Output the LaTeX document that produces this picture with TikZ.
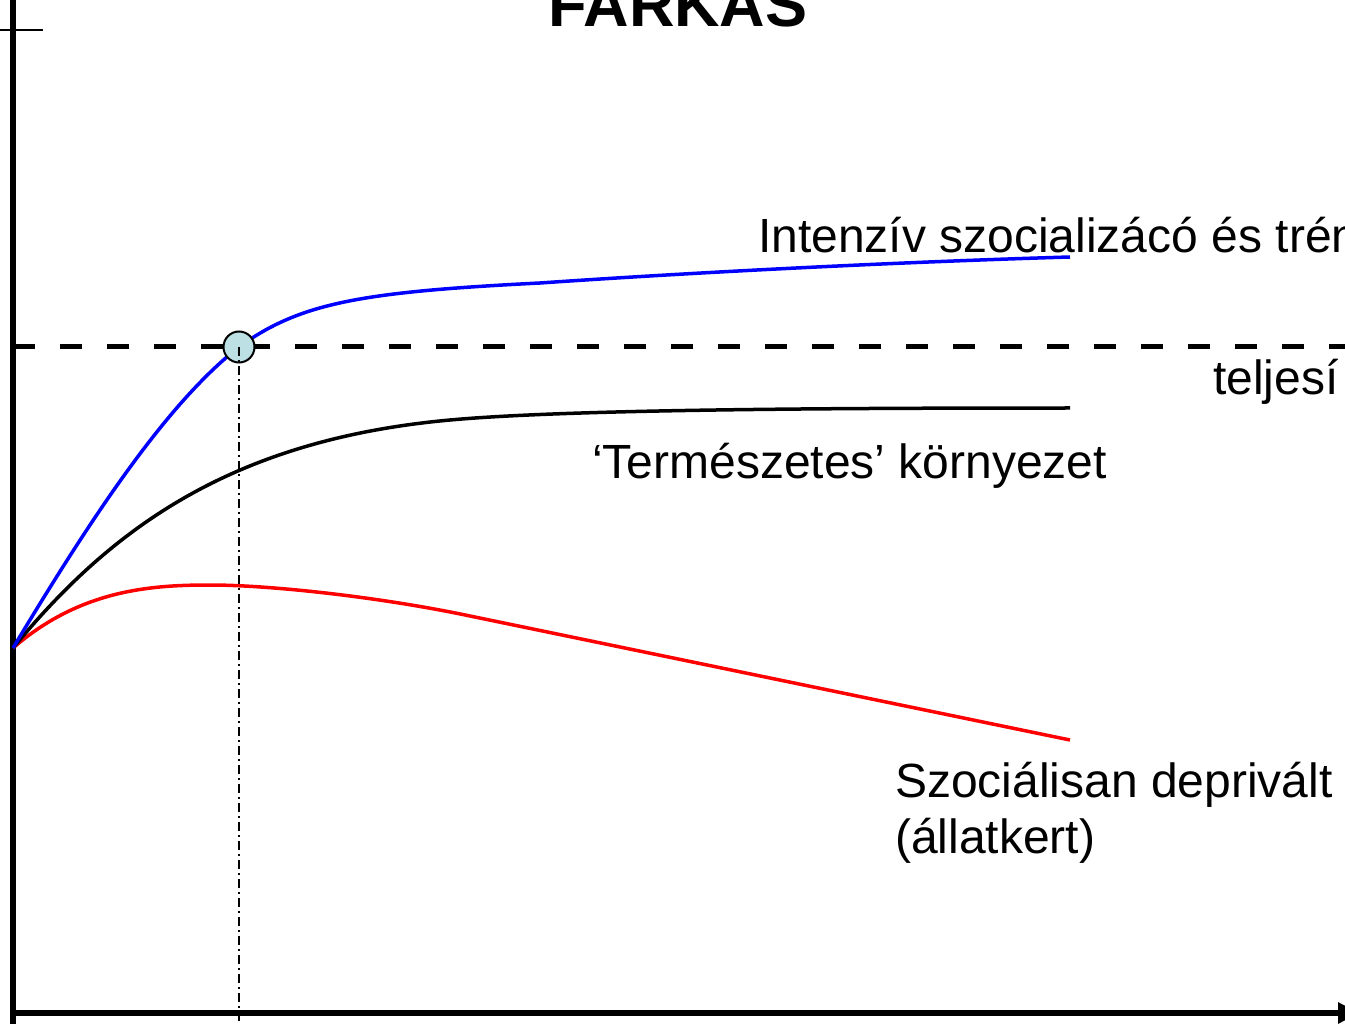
\documentclass[tikz,border=0pt]{standalone}
\usepackage{fontspec}
\setmainfont{Liberation Sans}
\usetikzlibrary{arrows.meta}
\begin{document}
\begin{tikzpicture}[x=1pt,y=-1pt,
  lbl/.style={anchor=base west,inner sep=0pt,font=\fontsize{48}{56}\selectfont},
  axis/.style={line width=6pt},
  curve/.style={line width=3.5pt}]
\useasboundingbox (0,0) rectangle (1345,1024);
\clip (0,0) rectangle (1345,1024);
% axes
\coordinate (ytop) at (13,-5);
\coordinate (origin) at (13,1013);
\coordinate (xend) at (1360,1013);
\draw[axis] (13,1024) -- (ytop);
\draw[axis,-{Triangle[length=22pt,width=20pt]}] (origin) -- (xend);
\coordinate (tickL) at (0,30);
\coordinate (tickR) at (43,30);
\draw[line width=2pt] (tickL) -- (tickR);
% title
\node[anchor=base,inner sep=0pt,font=\fontsize{63}{70}\selectfont\bfseries] (title) at (678,27) {FARKAS};
% dashed line
\coordinate (dL) at (13,347);
\coordinate (dR) at (1345,347);
\draw[line width=5pt,dash pattern=on 22pt off 25pt] (dL) -- (dR);
% vertical dash-dot
\coordinate (vb) at (239,1024);
\coordinate (start) at (13,648);
% curves
\draw[curve,red] (start) .. controls (80,590) and (150,585) .. (210,585)
  .. controls (270,585) and (380,597) .. (470,616) -- (1070,740);
\draw[curve,black] (start) .. controls (110,530) and (230,440) .. (450,420)
  .. controls (560,410) and (800,408) .. (1070,408);
\draw[curve,blue] (start) .. controls (90,520) and (165,405) .. (239,347)
  .. controls (300,303) and (360,292) .. (540,283)
  .. controls (700,272) and (900,262) .. (1070,257);
\node[circle,draw=black,line width=2pt,fill={rgb,255:red,189;green,224;blue,228},minimum size=31pt,inner sep=0pt] (pt) at (239,347) {};
\draw[line width=1.3pt,dash pattern=on 9pt off 4pt on 2pt off 4pt] (pt.center) -- (vb);
% labels
\node[lbl] (l1) at (758,253) {Intenzív szocializácó és trén};
\node[lbl] (l2) at (1213,395) {teljesí};
\node[lbl] (l3) at (592,478) {‘Természetes’ környezet};
\node[lbl] (l4) at (895,797) {Szociálisan deprivált};
\node[lbl] (l5) at (895,853) {(állatkert)};
\end{tikzpicture}
\end{document}
